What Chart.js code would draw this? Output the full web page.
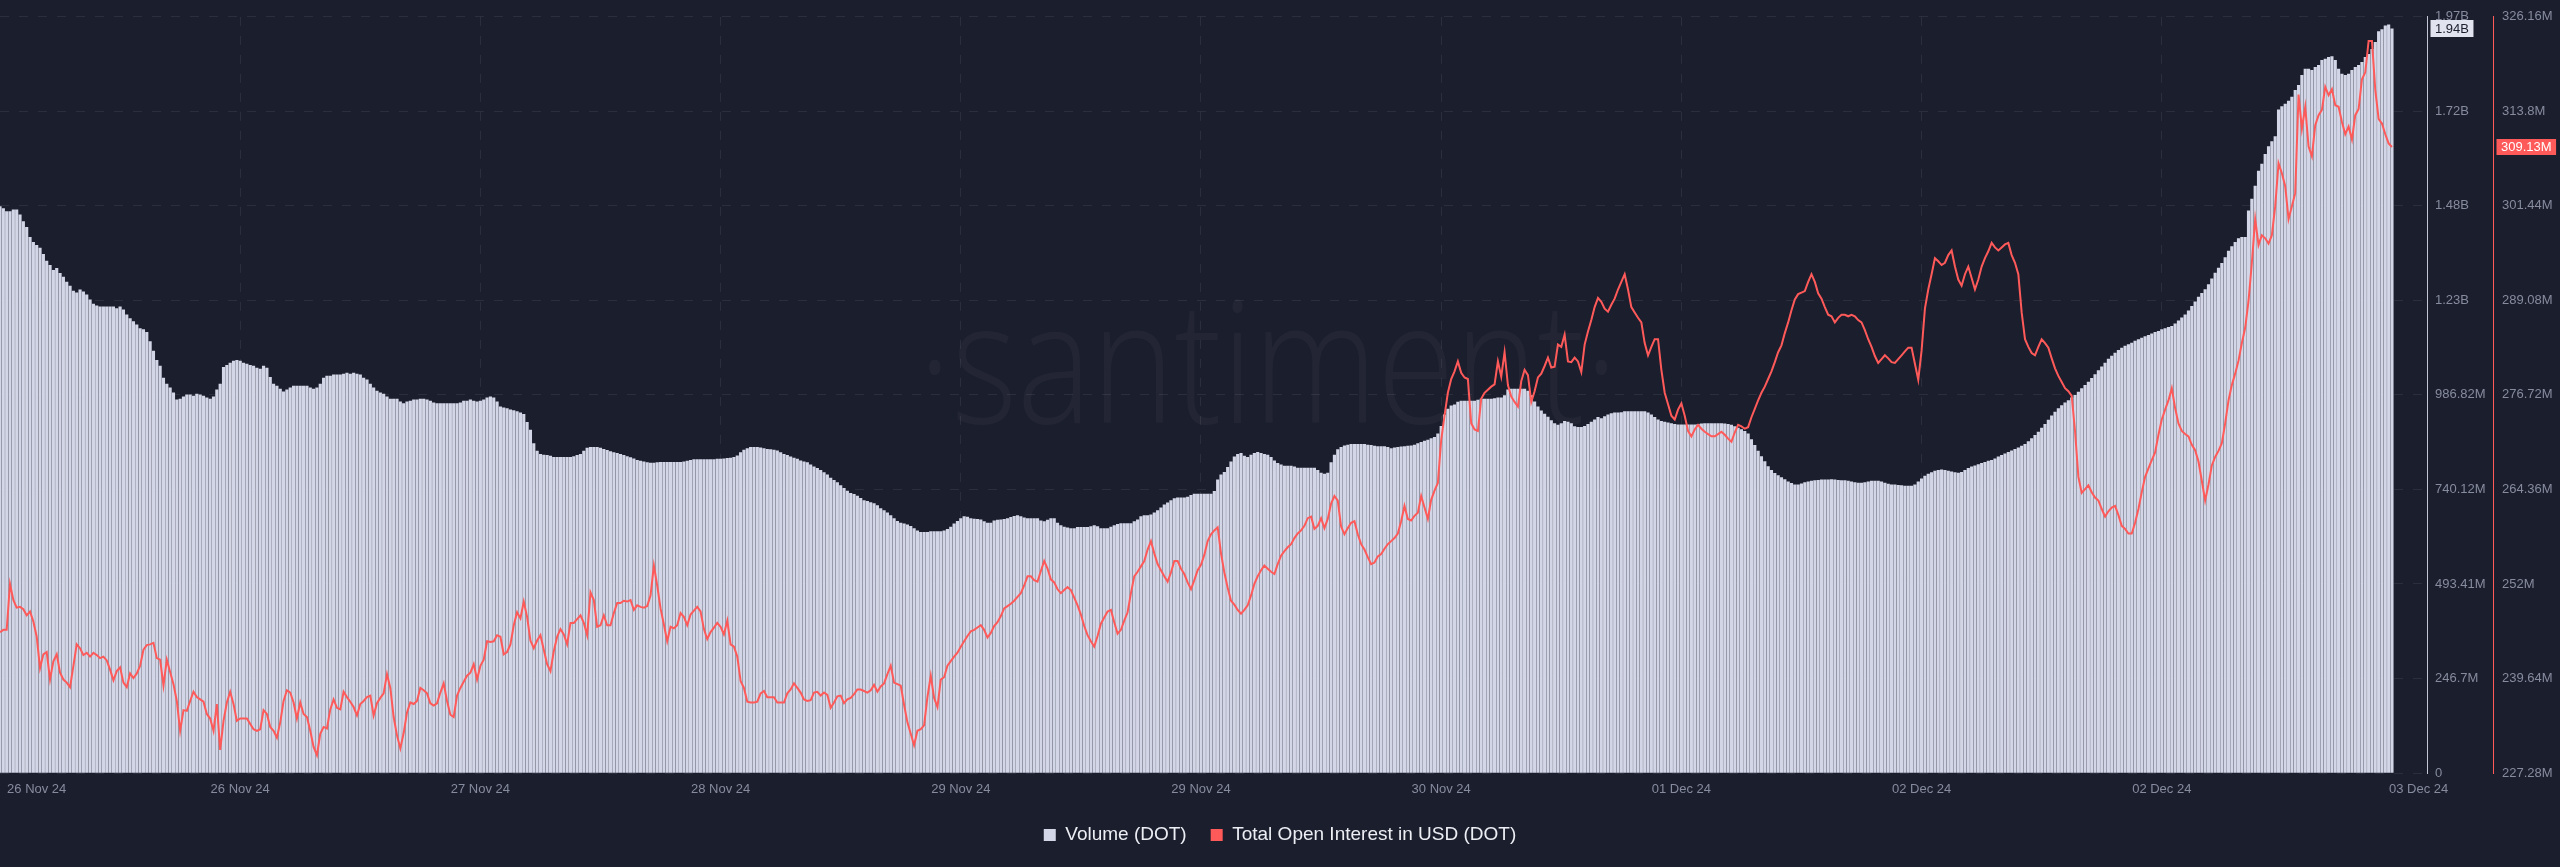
<!DOCTYPE html>
<html><head><meta charset="utf-8">
<script src="https://cdn.jsdelivr.net/npm/chart.js@4.4.1/dist/chart.umd.min.js"></script>
<style>
html,body{margin:0;padding:0;background:#1b1e2d;}
#wrap{position:relative;width:2560px;height:867px;}
</style></head><body>
<div id="wrap"><canvas id="c"></canvas></div>
<script>
// 15-minute steps from 26 Nov 24 to 03 Dec 24
const volumeM = [
1478,1473,1465,1465,1470,1470,1457,1439,1424,1398,
1385,1377,1370,1354,1336,1325,1312,1317,1304,1294,
1281,1271,1258,1253,1261,1256,1248,1235,1224,1219,
1217,1217,1217,1217,1217,1212,1217,1209,1196,1186,
1178,1170,1160,1157,1150,1126,1101,1077,1062,1031,
1015,1005,992,974,976,982,987,987,984,989,
987,984,979,976,982,1000,1015,1059,1064,1070,
1075,1077,1075,1070,1067,1064,1062,1057,1054,1062,
1057,1033,1015,1010,1002,995,1000,1005,1010,1010,
1010,1010,1010,1005,1002,1005,1015,1031,1036,1036,
1039,1039,1039,1041,1044,1041,1044,1041,1039,1031,
1026,1015,1005,997,992,989,982,976,976,976,
969,964,969,971,974,974,976,976,974,971,
966,964,964,964,964,964,964,964,966,971,
971,974,971,969,971,974,979,982,979,969,
956,953,951,948,946,943,940,936,915,895,
860,840,832,830,829,827,824,824,824,824,
824,824,826,829,832,840,848,850,850,850,
848,845,842,839,836,834,832,829,826,823,
820,816,814,812,810,809,809,810,811,811,
811,811,811,811,811,812,814,816,818,818,
818,818,818,818,818,819,819,820,821,822,
824,828,836,843,847,850,850,850,849,847,
845,844,843,841,836,832,829,825,822,819,
815,812,810,804,799,795,790,784,778,770,
764,758,750,743,736,730,727,723,717,711,
709,706,703,698,690,685,679,672,664,657,
652,650,648,644,638,632,628,628,628,630,
630,630,630,632,636,642,650,657,664,669,
668,664,663,662,661,656,652,652,658,660,
661,662,664,667,670,672,669,666,664,664,
664,664,658,656,660,664,664,652,646,642,
640,638,638,641,641,641,641,643,646,643,
638,638,638,642,646,649,651,651,651,651,
656,661,669,672,672,674,679,685,692,700,
705,711,716,718,718,718,720,725,728,728,
728,728,728,728,735,765,778,785,798,812,
825,832,834,827,824,830,834,837,834,832,
830,824,815,808,804,801,801,801,799,796,
796,796,796,796,796,790,783,780,783,810,
830,844,850,854,856,858,858,858,858,858,
856,855,853,852,852,852,850,847,849,850,
851,852,853,854,856,860,863,866,869,873,
876,885,905,935,950,958,961,968,971,971,
971,971,971,973,976,976,976,976,977,979,
979,985,1000,1002,1002,1002,1002,1002,997,985,
969,956,945,937,929,920,912,908,912,918,
916,912,904,902,902,905,910,916,922,928,
925,930,935,938,940,940,941,943,943,943,
943,943,943,943,940,935,928,922,918,916,
914,912,910,909,909,909,909,909,909,910,
911,912,912,912,912,912,912,911,910,908,
904,900,896,892,885,870,855,840,826,813,
800,790,782,776,771,766,760,756,752,752,
755,758,760,762,763,764,765,765,765,766,
765,764,763,763,762,760,758,757,757,758,
760,762,762,762,760,757,754,752,752,751,
750,749,749,749,752,760,768,775,780,784,
788,790,791,790,788,786,784,783,785,790,
795,799,802,805,808,811,814,816,820,825,
829,833,837,841,845,849,853,858,865,873,
881,890,900,910,921,932,942,951,959,966,
972,979,986,994,1003,1012,1020,1030,1040,1050,
1060,1070,1080,1088,1096,1103,1109,1114,1118,1122,
1127,1131,1135,1139,1142,1146,1150,1153,1157,1160,
1163,1166,1172,1180,1188,1196,1206,1218,1230,1242,
1252,1262,1275,1290,1305,1318,1330,1345,1362,1374,
1385,1395,1398,1398,1467,1498,1532,1571,1589,1615,
1635,1648,1661,1731,1739,1746,1754,1764,1782,1795,
1821,1837,1837,1834,1842,1847,1860,1863,1868,1870,
1860,1837,1824,1821,1824,1834,1842,1847,1855,1868,
1876,1889,1907,1935,1940,1950,1953,1942
];

const openInterestM = [
245.7,246.0,246.0,252.0,249.9,248.9,249.0,248.7,247.9,248.4,
247.1,245.1,241.0,242.8,243.1,239.5,241.9,242.8,240.4,239.5,
239.1,238.5,241.3,244.1,243.6,242.7,243.0,242.5,243.0,242.7,
242.3,242.5,242.0,240.8,239.4,240.6,241.1,239.1,238.5,240.3,
239.7,240.3,241.3,243.4,244.0,244.1,244.3,242.3,242.1,238.7,
242.1,240.5,238.9,236.7,232.8,235.5,235.4,236.7,237.9,237.2,
236.9,236.6,235.0,234.4,232.8,236.3,230.3,234.1,236.5,237.9,
236.3,234.1,234.4,234.4,234.4,233.7,233.0,232.8,233.0,235.5,
235.0,233.3,232.8,231.9,233.9,236.7,238.1,237.8,236.5,234.4,
236.5,235.0,234.6,232.8,230.7,229.6,232.4,233.3,233.1,235.6,
236.9,235.8,235.6,237.9,237.2,236.6,235.9,234.8,236.3,236.7,
237.2,237.4,234.8,236.4,237.1,237.7,240.2,238.4,234.6,232.2,
230.5,232.5,235.2,236.5,236.3,236.7,238.4,238.1,237.7,236.4,
236.1,236.4,237.8,239.0,236.7,234.9,234.6,237.4,238.4,239.2,
240.0,240.4,241.5,239.5,241.3,242.1,244.5,244.4,244.5,245.3,
245.1,242.8,243.1,244.1,246.6,248.3,247.5,249.7,247.7,244.6,
243.6,244.6,245.3,243.4,241.5,240.6,243.2,245.1,246.1,245.4,
244.1,246.9,246.9,247.4,247.9,246.9,245.3,250.9,249.9,246.4,
246.6,247.9,246.6,246.6,248.2,249.5,249.5,249.8,249.7,249.9,
248.6,249.2,249.0,248.9,249.1,250.5,254.4,251.8,248.8,246.7,
244.5,246.4,246.2,246.6,248.2,247.7,246.6,248.0,248.5,249.0,
248.4,246.1,244.8,245.7,246.3,246.9,246.4,245.4,247.2,244.1,
243.8,242.5,239.3,238.4,236.6,236.5,236.5,236.6,237.7,238.0,
237.2,237.2,237.2,236.5,236.5,236.5,237.7,238.2,239.0,238.4,
237.8,236.9,236.7,236.8,237.8,237.9,237.4,237.8,237.5,235.8,
236.5,237.3,237.4,236.4,236.9,237.1,237.6,238.2,238.2,238.0,
237.8,238.1,238.8,237.9,238.6,239.0,240.2,241.3,239.1,238.9,
238.7,236.2,233.9,232.4,230.9,232.8,233.0,233.5,237.2,240.0,
237.1,235.9,239.5,239.8,241.3,241.9,
242.5,243.0,243.8,244.5,
245.2,245.8,246.0,246.3,246.6,246.0,245.0,245.6,246.5,247.0,
247.8,248.8,249.1,249.4,249.8,250.3,250.8,251.8,253.0,253.0,
252.5,252.3,253.7,255.0,254.0,252.6,252.2,251.3,250.8,251.2,
251.6,251.2,250.2,249.2,248.0,246.5,245.3,244.5,243.8,245.2,
246.8,247.6,248.4,248.6,247.0,245.5,246.0,247.2,248.3,250.8,
253.0,253.6,254.3,255.0,256.5,257.6,256.0,254.6,253.8,253.0,
252.3,253.5,255.0,255.0,254.0,253.3,252.2,251.3,252.5,253.8,
254.5,255.8,257.6,258.5,259.0,259.4,256.0,253.5,251.5,249.8,
249.3,248.6,248.1,248.6,249.2,250.5,252.0,253.0,253.8,254.4,
254.0,253.6,253.3,254.6,255.7,256.3,256.8,257.2,258.0,258.6,
259.0,259.6,260.6,260.8,259.2,259.6,260.6,259.3,260.5,262.5,
263.5,262.9,259.5,258.5,259.3,260.0,260.2,258.5,257.2,256.5,
255.5,254.6,254.8,255.6,255.9,256.6,257.2,257.6,258.0,258.6,
260.2,262.2,260.5,260.3,260.9,261.3,263.5,262.0,260.5,263.0,
264.2,265.2,270.8,274.0,277.0,278.8,279.8,281.1,279.6,279.0,
278.8,273.0,272.2,272.0,276.2,277.0,277.4,277.8,278.1,281.1,
279.1,282.3,278.0,276.5,275.8,275.2,278.5,280.0,279.3,275.8,
277.2,279.0,279.5,280.5,281.6,280.3,280.4,283.3,283.0,284.6,
281.1,281.0,281.6,281.1,279.7,283.3,285.0,286.5,288.2,289.4,
288.9,288.0,287.6,288.5,289.3,290.5,291.5,292.5,290.5,288.2,
287.5,286.8,286.2,283.5,281.9,283.0,284.0,284.0,280.0,277.0,
275.5,274.0,273.5,274.8,275.6,274.0,272.0,271.3,272.2,272.8,
272.3,271.9,271.6,271.3,271.3,271.6,271.9,271.5,271.0,270.6,
271.8,272.8,272.6,272.3,272.5,273.8,274.9,276.0,277.0,277.8,
278.8,279.8,281.0,282.3,283.2,284.8,286.2,287.8,289.2,289.9,
290.1,290.3,291.5,292.5,291.5,290.0,289.3,288.2,287.2,287.0,
286.2,286.8,287.2,287.2,287.0,287.2,287.0,286.5,286.2,285.2,
284.0,283.0,281.8,280.9,281.4,281.9,281.5,281.0,280.9,281.4,
281.9,282.4,282.9,282.9,280.8,278.7,282.5,288.0,290.5,292.5,
294.6,294.2,293.7,294.0,295.0,295.6,293.5,291.8,291.0,292.5,
293.5,292.0,290.5,291.8,293.5,294.6,295.5,296.6,296.0,295.6,
296.0,296.4,296.6,295.0,294.0,292.5,287.5,284.0,283.0,282.2,
281.9,283.0,284.0,283.5,282.9,281.5,280.2,279.2,278.4,277.6,
277.2,276.6,272.0,266.0,263.9,264.4,264.9,264.0,263.3,262.9,
261.8,260.8,261.5,262.0,262.2,261.0,259.6,259.2,258.6,258.6,
260.0,261.8,264.0,266.0,267.1,268.2,269.2,271.5,273.5,274.8,
276.0,277.6,275.0,273.0,272.0,271.6,271.3,270.2,269.5,268.0,
265.5,262.9,265.0,267.5,268.6,269.4,270.4,273.0,276.0,278.0,
279.5,281.2,283.5,285.5,289.0,294.0,299.7,296.3,297.6,297.2,
296.5,297.6,301.4,307.0,305.7,304.0,299.7,301.4,303.1,316.0,
311.5,314.4,309.2,307.9,312.0,313.3,314.0,317.0,315.9,316.7,
314.6,314.4,312.4,310.8,311.8,310.1,313.3,314.1,318.0,318.9,
323.0,323.0,316.6,312.8,312.2,310.8,309.6,309.13
];

const xTickPositions = [11, 72, 144, 216, 288, 360, 432, 504, 576, 648, 725];
const xTickLabels = ["26 Nov 24","26 Nov 24","27 Nov 24","28 Nov 24","29 Nov 24","29 Nov 24","30 Nov 24","01 Dec 24","02 Dec 24","02 Dec 24","03 Dec 24"];
const volTicks = [0, 246.705, 493.41, 740.115, 986.82, 1233.525, 1480.23, 1726.935, 1973.64];
const volTickLabels = ["0","246.7M","493.41M","740.12M","986.82M","1.23B","1.48B","1.72B","1.97B"];
const oiTicks = [227.28, 239.64, 252, 264.36, 276.72, 289.08, 301.44, 313.8, 326.16];
const oiTickLabels = ["227.28M","239.64M","252M","264.36M","276.72M","289.08M","301.44M","313.8M","326.16M"];
const seriesNames = ["Volume (DOT)", "Total Open Interest in USD (DOT)"];
const seriesColors = ["#d3d6e6", "#ff5a5a"];

const BG = '#1b1e2d';
const GRID = 'rgba(255,255,255,0.075)';
const TICK = '#868b9e';
const FONT = 'Liberation Sans';

const watermark = {
  id: 'watermark',
  beforeDatasetsDraw(chart) {
    const ctx = chart.ctx;
    ctx.save();
    ctx.font = '300 170px "Open Sans"';
    const text = '\u00B7santiment\u00B7';
    const w = ctx.measureText(text).width;
    ctx.translate(918, 423);
    ctx.scale(700 / w, 1);
    ctx.fillStyle = 'rgba(255,255,255,0.035)';
    ctx.textBaseline = 'alphabetic';
    ctx.fillText(text, 0, 0);
    ctx.restore();
  }
};

const badges = {
  id: 'badges',
  afterDraw(chart) {
    const ctx = chart.ctx;
    const sv = chart.scales.yVol, so = chart.scales.yOI;
    const lastV = volumeM[volumeM.length - 1];
    const lastO = openInterestM[openInterestM.length - 1];
    const items = [
      {scale: sv, y: sv.getPixelForValue(lastV), text: (lastV / 1000).toFixed(2) + 'B', bg: '#e1e3ee', fg: '#1b1e2d', h: 17},
      {scale: so, y: so.getPixelForValue(lastO), text: lastO.toFixed(2) + 'M', bg: '#ff5a5a', fg: '#ffffff', h: 16}
    ];
    ctx.save();
    ctx.font = '13px "' + FONT + '"';
    ctx.textBaseline = 'middle';
    ctx.textAlign = 'left';
    for (const it of items) {
      const tw = ctx.measureText(it.text).width;
      const x = it.scale.left + 3.5;
      const top = Math.round(it.y - it.h / 2);
      ctx.fillStyle = it.bg;
      ctx.fillRect(x, top, tw + 9, it.h);
      ctx.fillStyle = it.fg;
      ctx.fillText(it.text, x + 4.5, top + it.h / 2 + 0.5);
    }
    ctx.restore();
  }
};

new Chart(document.getElementById('c'), {
  type: 'bar',
  data: {
    datasets: [
      {
        type: 'bar',
        label: seriesNames[0],
        data: volumeM.map((v, i) => ({x: i, y: v})),
        xAxisID: 'x', yAxisID: 'yVol',
        backgroundColor: seriesColors[0],
        borderWidth: 0,
        barThickness: 2.5,
        order: 2
      },
      {
        type: 'line',
        label: seriesNames[1],
        data: openInterestM.map((v, i) => ({x: i, y: v})),
        xAxisID: 'x', yAxisID: 'yOI',
        borderColor: seriesColors[1],
        backgroundColor: seriesColors[1],
        borderWidth: 2,
        pointRadius: 0,
        tension: 0,
        fill: false,
        order: 1
      }
    ]
  },
  options: {
    responsive: true,
    maintainAspectRatio: false,
    animation: false,
    devicePixelRatio: 1,
    layout: {padding: {top: 9, right: 0, bottom: 12.5, left: 0}},
    plugins: {
      tooltip: {enabled: false},
      legend: {
        display: true,
        position: 'bottom',
        align: 'center',
        labels: {
          boxWidth: 12, boxHeight: 12, padding: 24,
          color: '#eceef4',
          font: {size: 19, family: FONT},
          generateLabels: (chart) => chart.data.datasets.map((ds, i) => ({
            text: ds.label, fillStyle: seriesColors[i], strokeStyle: seriesColors[i],
            lineWidth: 0, hidden: false, datasetIndex: i, fontColor: '#eceef4'
          }))
        }
      }
    },
    scales: {
      x: {
        type: 'linear', min: 0, max: 727.5, bounds: 'data', offset: false,
        grid: {
          offset: false, drawTicks: false, lineWidth: 1,
          color: (c) => (c.index === 0 || c.index === xTickPositions.length - 1) ? 'rgba(0,0,0,0)' : GRID
        },
        border: {display: false, dash: [9, 10]},
        ticks: {
          autoSkip: false, maxRotation: 0, minRotation: 0, padding: 9,
          color: TICK, font: {size: 13, family: FONT},
          callback: (v, i) => xTickLabels[i]
        },
        afterBuildTicks: (s) => { s.ticks = xTickPositions.map(v => ({value: v})); },
        afterFit: (s) => { s.height = 28.5; s.paddingLeft = 0; s.paddingRight = 0; }
      },
      yVol: {
        type: 'linear', position: 'right', min: 0, max: 1973.64,
        grid: {drawTicks: false, lineWidth: 1, color: GRID},
        border: {display: true, color: '#c3c6d4', width: 1, dash: [9, 10]},
        ticks: {padding: 8, color: TICK, font: {size: 13, family: FONT}, callback: (v, i) => volTickLabels[i]},
        afterBuildTicks: (s) => { s.ticks = volTicks.map(v => ({value: v})); },
        afterFit: (s) => { s.width = 66; }
      },
      yOI: {
        type: 'linear', position: 'right', min: 227.28, max: 326.16,
        grid: {drawOnChartArea: false, drawTicks: false},
        border: {display: true, color: '#ff5a5a', width: 1},
        ticks: {padding: 9, color: TICK, font: {size: 13, family: FONT}, callback: (v, i) => oiTickLabels[i]},
        afterBuildTicks: (s) => { s.ticks = oiTicks.map(v => ({value: v})); },
        afterFit: (s) => { s.width = 67; }
      }
    }
  },
  plugins: [watermark, badges]
});
</script>
</body></html>
